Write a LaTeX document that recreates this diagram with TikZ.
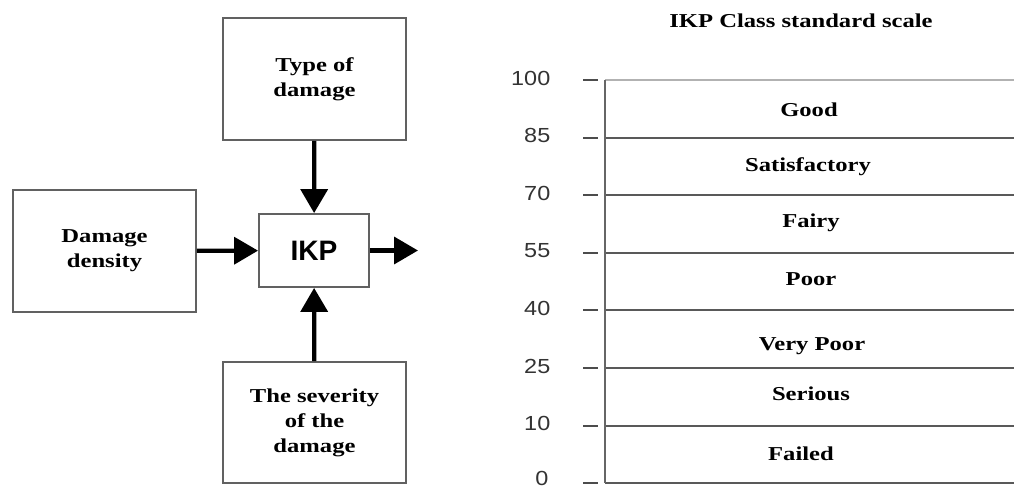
\documentclass[tikz,border=0pt]{standalone}
\usepackage{fontspec}
\setmainfont{Liberation Serif}[FakeStretch=1.25]
\newfontfamily\numfont{Liberation Sans}[FakeStretch=1.15]
\newfontfamily\ikpfont{Liberation Sans}
\usetikzlibrary{arrows.meta}

\begin{document}
\begin{tikzpicture}[x=0.025cm,y=-0.025cm,
  box/.style={draw=black!62,line width=1.3pt,align=center,inner sep=0pt,
              font=\fontsize{14}{17.8}\selectfont\bfseries},
  flow/.style={-{Triangle[width=19pt,length=17pt]},line width=3pt},
  rule/.style={draw=black!65,line width=1.3pt},
  tickmark/.style={draw=black!70,line width=1.3pt},
  grade/.style={font=\fontsize{14}{17}\selectfont\bfseries},
  value/.style={font=\numfont\fontsize{14.5}{16}\selectfont,text=black!80,anchor=east,inner sep=1pt}]
\useasboundingbox (0,0) rectangle (1014,489);

% left: what the IKP is built from
\node[box,minimum width=4.575cm,minimum height=3.05cm] (type) at (314.5,79) {Type of\\damage};
\node[box,minimum width=4.575cm,minimum height=3.05cm] (density) at (104.5,251) {Damage\\density};
\node[box,minimum width=2.75cm,minimum height=1.825cm,
      font=\ikpfont\fontsize{20}{24}\selectfont\bfseries] (ikp) at (314,250.5) {IKP};
\node[box,minimum width=4.575cm,minimum height=3.025cm] (severity) at (314.5,422.5) {The severity\\of the\\damage};
\coordinate (out) at (418,250.5);

\draw[flow] (type) -- (ikp);
\draw[flow] (density) -- (ikp);
\draw[flow] (severity) -- (ikp);
\draw[flow] (ikp) -- (out);

% right: the class scale
\node[grade] (title) at (801,21) {IKP Class standard scale};
\foreach \v [count=\i from 0] in {100,85,70,55,40,25,10} {
  \node[value] (n\i) at (552,78+\i*57.6) {\v};
}
\node[value] (n7) at (550,478) {0};
\foreach \i in {0,...,7} {
  \coordinate (l\i) at (605,80+\i*57.6);
  \coordinate (r\i) at (1014,80+\i*57.6);
  \coordinate (ta\i) at (583,80+\i*57.6);
  \coordinate (tb\i) at (598,80+\i*57.6);
  \draw[tickmark] (ta\i) -- (tb\i);
}
\draw[draw=black!30,line width=1pt] (l0) -- (r0);
\foreach \i in {1,...,7}
  \draw[rule] (l\i) -- (r\i);
\draw[draw=black!60,line width=1.8pt] (l0) -- (l7);

\node[grade] (good) at (809,110) {Good};
\node[grade] (satisfactory) at (808,167) {Satisfactory};
\node[grade] (fairy) at (811,223) {Fairy};
\node[grade] (poor) at (811,279) {Poor};
\node[grade] (verypoor) at (812,346) {Very Poor};
\node[grade] (serious) at (811,394) {Serious};
\node[grade] (failed) at (801,454) {Failed};
\end{tikzpicture}
\end{document}
